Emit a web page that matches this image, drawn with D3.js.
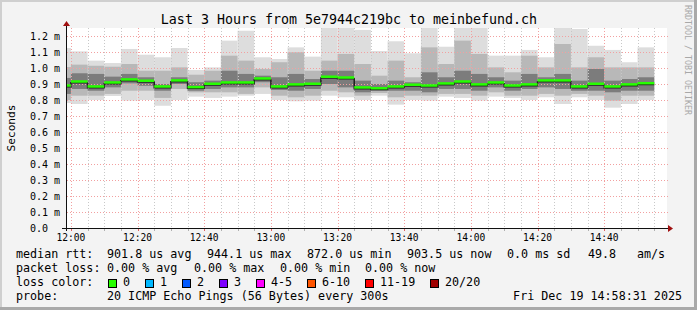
<!DOCTYPE html>
<html>
<head>
<meta charset="utf-8">
<script src="https://cdn.jsdelivr.net/npm/d3@7"></script>
<style>
  body { margin: 0; background: #f3f3f3; }
  svg { display: block; }
  text { font-family: "DejaVu Sans Mono", monospace; fill: #000; }
</style>
</head>
<body>
<svg id="chart" width="697" height="310"></svg>
<script>
// ping spread per 5 minute step (ms)
var rttMax    = [1.125,1.104,1.046,1.031,1.119,1.083,1.067,1.125,0.988,1.004,1.171,1.233,1.067,1.056,1.129,1.071,1.28,1.28,1.238,1.106,1.167,1.092,1.28,1.133,1.28,1.28,1.077,1.077,1.113,1.067,1.28,1.244,1.139,1.113,1.036,1.129];
var rttHi2    = [1.006,1.021,1.014,1.008,1.025,0.983,0.983,1.004,0.958,0.983,1.077,1.046,0.994,1.036,1.098,0.983,1.046,1.088,1.025,0.952,1.046,0.942,1.129,1.025,1.171,1.088,1.004,0.973,1.077,1.004,1.150,1.004,1.067,1.004,1.004,1.004];
var rttHi3    = [0.938,0.967,0.963,0.946,0.963,0.942,0.900,0.942,0.911,0.921,0.983,0.963,0.952,0.942,0.963,0.931,0.983,0.983,0.921,0.900,0.921,0.911,0.973,0.942,0.983,0.963,0.942,0.921,0.963,0.942,0.963,0.921,0.994,0.921,0.931,0.942];
var rttMedian = [0.889,0.914,0.883,0.908,0.927,0.919,0.883,0.921,0.879,0.900,0.908,0.908,0.933,0.883,0.896,0.900,0.944,0.939,0.877,0.872,0.883,0.894,0.889,0.902,0.914,0.896,0.908,0.889,0.896,0.921,0.921,0.883,0.900,0.883,0.896,0.9035];
var rttLo3    = [0.838,0.869,0.858,0.879,0.904,0.889,0.858,0.900,0.858,0.869,0.879,0.879,0.911,0.863,0.858,0.869,0.900,0.879,0.848,0.858,0.858,0.858,0.848,0.869,0.869,0.858,0.879,0.858,0.869,0.879,0.869,0.858,0.858,0.848,0.858,0.858];
var rttLo2    = [0.800,0.827,0.827,0.838,0.858,0.858,0.813,0.869,0.848,0.848,0.848,0.838,0.879,0.827,0.817,0.827,0.858,0.848,0.827,0.844,0.817,0.827,0.827,0.838,0.838,0.827,0.848,0.827,0.827,0.838,0.827,0.838,0.827,0.796,0.827,0.827];
var rttMin    = [0.781,0.775,0.800,0.825,0.796,0.800,0.764,0.800,0.821,0.813,0.821,0.827,0.838,0.800,0.792,0.796,0.827,0.817,0.800,0.827,0.771,0.800,0.796,0.821,0.813,0.796,0.821,0.813,0.800,0.817,0.775,0.817,0.800,0.752,0.775,0.800];

var xTickLabels = ["12:00","12:20","12:40","13:00","13:20","13:40","14:00","14:20","14:40"];
var yTickValues = [0,0.1,0.2,0.3,0.4,0.5,0.6,0.7,0.8,0.9,1.0,1.1,1.2];

var lossLabels = ["0","1","2","3","4-5","6-10","11-19","20/20"];
var lossColors = ["#26ff00","#00b8ff","#0059ff","#7e00ff","#ff00ff","#ff5500","#ff0000","#a00000"];

var firstStep = new Date(2025, 11, 19, 11, 55, 0);
var graphEnd = new Date(2025, 11, 19, 14, 58, 50);
var graphStart = new Date(graphEnd.getTime() - 3 * 3600 * 1000);

var svg = d3.select("#chart");
var plot = {left: 67, top: 28, right: 667, bottom: 228};

// frame
svg.append("rect").attr("width", 697).attr("height", 310).attr("fill", "#f3f3f3");
svg.append("rect").attr("x", 0).attr("y", 0).attr("width", 697).attr("height", 2).attr("fill", "#cfcfcf");
svg.append("rect").attr("x", 0).attr("y", 0).attr("width", 2).attr("height", 310).attr("fill", "#cfcfcf");
svg.append("rect").attr("x", 694).attr("y", 0).attr("width", 3).attr("height", 310).attr("fill", "#a9a9a9");
svg.append("rect").attr("x", 0).attr("y", 307).attr("width", 697).attr("height", 3).attr("fill", "#a9a9a9");

var x = d3.scaleTime().domain([graphStart, graphEnd]).range([plot.left, plot.right]);
var y = d3.scaleLinear().domain([0, 1.25]).range([plot.bottom, plot.top]);

svg.append("rect")
    .attr("x", plot.left).attr("y", plot.top)
    .attr("width", plot.right - plot.left).attr("height", plot.bottom - plot.top)
    .attr("fill", "#ffffff");

svg.append("clipPath").attr("id", "clip")
  .append("rect")
    .attr("x", plot.left).attr("y", plot.top)
    .attr("width", plot.right - plot.left).attr("height", plot.bottom - plot.top);

var steps = rttMedian.map(function(m, i) {
  var t0 = d3.timeMinute.offset(firstStep, 5 * i);
  return {t0: t0, t1: d3.timeMinute.offset(t0, 5), i: i};
});

// smoke bands, outer to inner
var bands = [
  {lo: rttMin, hi: rttMax, color: "#dddddd"},
  {lo: rttLo2, hi: rttHi2, color: "#b8b8b8"},
  {lo: rttLo3, hi: rttHi3, color: "#7c7c7c"}
];
var smoke = svg.append("g").attr("clip-path", "url(#clip)");
bands.forEach(function(b) {
  smoke.append("g").selectAll("rect")
    .data(steps).enter().append("rect")
      .attr("x", function(d) { return x(d.t0); })
      .attr("width", function(d) { return x(d.t1) - x(d.t0); })
      .attr("y", function(d) { return y(b.hi[d.i]); })
      .attr("height", function(d) { return y(b.lo[d.i]) - y(b.hi[d.i]); })
      .attr("fill", b.color);
});

// grid
var grid = svg.append("g").attr("shape-rendering", "crispEdges");
var minor = d3.timeMinute.every(5).range(graphStart, graphEnd);
grid.selectAll(".vmin").data(minor).enter().append("line")
    .attr("x1", function(d) { return Math.round(x(d)) + 0.5; })
    .attr("x2", function(d) { return Math.round(x(d)) + 0.5; })
    .attr("y1", plot.top).attr("y2", plot.bottom)
    .attr("stroke", function(d) { return d.getMinutes() % 20 == 0 ? "#f2a0a0" : "#c8c8c8"; })
    .attr("stroke-dasharray", "1,2");
grid.selectAll(".hgrid").data(yTickValues.slice(1)).enter().append("line")
    .attr("x1", plot.left).attr("x2", plot.right + 1)
    .attr("y1", function(d) { return Math.round(y(d)) + 0.5; })
    .attr("y2", function(d) { return Math.round(y(d)) + 0.5; })
    .attr("stroke", "#f2a0a0")
    .attr("stroke-dasharray", "1,2");

// median line
var med = svg.append("g").attr("clip-path", "url(#clip)");
var stepLine = d3.line()
    .x(function(d) { return x(d[0]); })
    .y(function(d) { return y(d[1]) + 1; })
    .curve(d3.curveStepAfter);
var pts = steps.map(function(d) { return [d.t0, rttMedian[d.i]]; });
pts.push([steps[steps.length - 1].t1, rttMedian[steps.length - 1]]);
med.append("path").attr("d", stepLine(pts))
    .attr("fill", "none").attr("stroke", "#202020").attr("stroke-width", 1.5);
med.selectAll(".m").data(steps).enter().append("rect")
    .attr("x", function(d) { return x(d.t0); })
    .attr("width", function(d) { return x(d.t1) - x(d.t0); })
    .attr("y", function(d) { return y(rttMedian[d.i]) - 1.5; })
    .attr("height", 2.5)
    .attr("fill", lossColors[0]);

// axes
var axis = svg.append("g").attr("shape-rendering", "crispEdges");
axis.append("line").attr("x1", 62).attr("x2", 669).attr("y1", 228.5).attr("y2", 228.5).attr("stroke", "#101010");
axis.append("line").attr("x1", 66.5).attr("x2", 66.5).attr("y1", 231).attr("y2", 25).attr("stroke", "#101010");
svg.append("path").attr("d", "M668,225 L673,228.5 L668,232 Z").attr("fill", "#a01010");
svg.append("path").attr("d", "M63,26 L66.5,21 L70,26 Z").attr("fill", "#a01010");

var majorTicks = xTickLabels.map(function(s) {
  var p = s.split(":");
  return new Date(2025, 11, 19, +p[0], +p[1], 0);
});
axis.selectAll(".tmin").data(minor).enter().append("line")
    .attr("x1", function(d) { return Math.round(x(d)) + 0.5; })
    .attr("x2", function(d) { return Math.round(x(d)) + 0.5; })
    .attr("y1", 229).attr("y2", 231)
    .attr("stroke", function(d) { return d.getMinutes() % 20 == 0 ? "#e06060" : "#b0b0b0"; });

svg.selectAll(".xl").data(majorTicks).enter().append("text")
    .attr("x", function(d) { return x(d); })
    .attr("y", 241)
    .attr("text-anchor", "middle")
    .style("font-size", "9.6px")
    .text(function(d, i) { return xTickLabels[i]; });

svg.selectAll(".yl").data(yTickValues).enter().append("text")
    .attr("x", 30)
    .attr("y", function(d) { return y(d) + 3.5; })
    .style("font-size", "10px")
    .text(function(d) { return d == 0 ? "0.0" : d3.format(".1f")(d) + " m"; });

svg.append("text")
    .attr("transform", "translate(15,128) rotate(-90)")
    .attr("text-anchor", "middle")
    .style("font-size", "11.2px")
    .text("Seconds");

svg.append("text")
    .attr("x", 349).attr("y", 24)
    .attr("text-anchor", "middle")
    .style("font-size", "13.3px")
    .text("Last 3 Hours from 5e7944c219bc to meinbefund.ch");

svg.append("text")
    .attr("transform", "translate(685,5) rotate(90)")
    .style("font-size", "8.3px")
    .style("fill", "#a8a8a8")
    .text("RRDTOOL / TOBI OETIKER");

// legend
var legendFont = "11.7px";
function legendText(px, py, s) {
  svg.append("text").attr("x", px).attr("y", py).style("font-size", legendFont)
     .attr("xml:space", "preserve").text(s);
}
legendText(16, 258, "median rtt:");
legendText(107, 258, "901.8 us avg");
legendText(207, 258, "944.1 us max");
legendText(307, 258, "872.0 us min");
legendText(407, 258, "903.5 us now");
legendText(507, 258, "0.0 ms sd");
legendText(588, 258, "49.8");
legendText(637, 258, "am/s");

legendText(16, 272, "packet loss:");
legendText(107, 272, "0.00 % avg");
legendText(194, 272, "0.00 % max");
legendText(280, 272, "0.00 % min");
legendText(365, 272, "0.00 % now");

legendText(16, 286, "loss color:");
var lossX = [108, 145, 182, 219, 256, 307, 365, 430];
lossLabels.forEach(function(lbl, i) {
  svg.append("rect").attr("x", lossX[i] + 0.5).attr("y", 279.5).attr("width", 8).attr("height", 8)
     .attr("fill", lossColors[i]).attr("stroke", "#000").attr("stroke-width", 1);
  legendText(lossX[i] + 15, 286, lbl);
});

legendText(16, 300, "probe:");
legendText(107, 300, "20 ICMP Echo Pings (56 Bytes) every 300s");
svg.append("text").attr("x", 682).attr("y", 300).attr("text-anchor", "end")
   .style("font-size", legendFont).text("Fri Dec 19 14:58:31 2025");
</script>
</body>
</html>
